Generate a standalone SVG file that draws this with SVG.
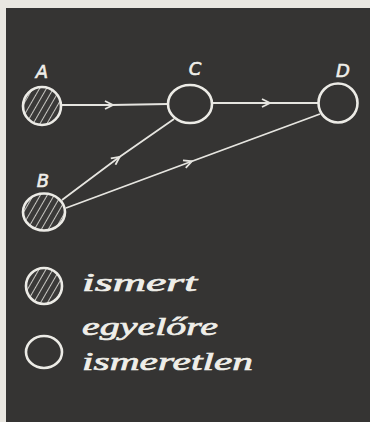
<svg xmlns="http://www.w3.org/2000/svg" width="370" height="422" viewBox="0 0 370 422">
<style>
.node{fill:none;stroke:#ecebe6;stroke-width:2.6}
.hatch{fill:url(#h);stroke:#ecebe6;stroke-width:2.6}
.edge{fill:none;stroke:#e6e5e0;stroke-width:1.8;marker-mid:url(#arr)}
.lbl{font-family:"DejaVu Sans",sans-serif;font-style:italic;font-size:18px;fill:#efeee9;stroke:#efeee9;stroke-width:0.6;text-anchor:middle}
.leg{font-family:"Liberation Serif",serif;font-style:italic;font-size:26px;fill:#efeee9;stroke:#efeee9;stroke-width:0.7}
</style>
<defs>
<pattern id="h" width="6" height="6" patternUnits="userSpaceOnUse" patternTransform="rotate(30)">
<rect width="6" height="6" fill="#3a3938"/>
<line x1="0" y1="0" x2="0" y2="6" stroke="#d8d7d2" stroke-width="1.8"/>
</pattern>
<marker id="arr" markerWidth="14" markerHeight="10" refX="7" refY="5" orient="auto" markerUnits="userSpaceOnUse">
<path d="M1,1 L9,5 L1,9" fill="none" stroke="#e6e5e0" stroke-width="1.8"/>
</marker>
</defs>
<rect width="370" height="422" fill="#e9e7e1"/>
<rect x="6" y="8" width="364" height="414" fill="#353433"/>
<g id="connectors">
<path class="edge" d="M61,105 L111,105 L168,104"/>
<path class="edge" d="M211,103 L268,103 L318,103"/>
<path class="edge" d="M62,200 L118,158 L174,119"/>
<path class="edge" d="M66,208 L190,162 L320,114"/>
</g>
<g id="A"><circle class="hatch" cx="42" cy="106" r="19"/><text class="lbl" x="42" y="78">A</text></g>
<g id="C"><ellipse class="node" cx="190" cy="104" rx="22" ry="19"/><text class="lbl" x="195" y="75">C</text></g>
<g id="D"><circle class="node" cx="338" cy="103" r="19.5"/><text class="lbl" x="343" y="77">D</text></g>
<g id="B"><ellipse class="hatch" cx="44" cy="212" rx="21" ry="18.5"/><text class="lbl" x="43" y="187">B</text></g>
<g id="legend-known"><circle class="hatch" cx="44" cy="286" r="18"/><text class="leg" x="82" y="291" textLength="115" lengthAdjust="spacingAndGlyphs">ismert</text></g>
<g id="legend-unknown"><ellipse class="node" cx="44" cy="352" rx="18" ry="16"/><text class="leg" x="82" y="335" textLength="136" lengthAdjust="spacingAndGlyphs">egyelőre</text><text class="leg" x="82" y="370" textLength="171" lengthAdjust="spacingAndGlyphs">ismeretlen</text></g>
</svg>
